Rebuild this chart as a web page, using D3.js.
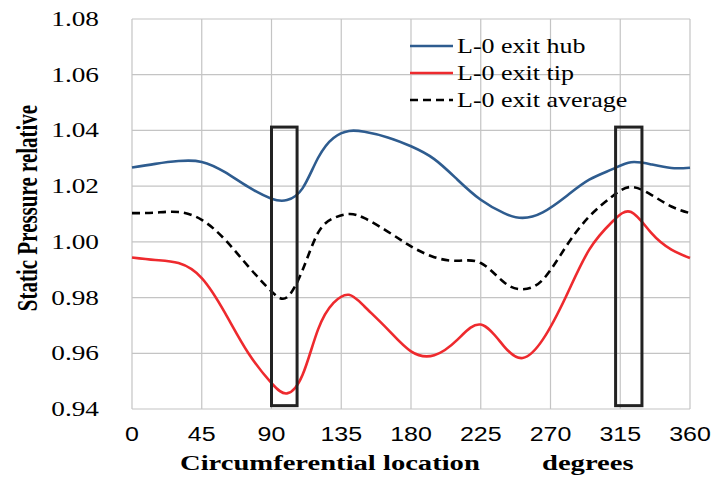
<!DOCTYPE html>
<html>
<head>
<meta charset="utf-8">
<script src="https://cdn.jsdelivr.net/npm/d3@7"></script>
<style>
  body { margin: 0; background: #fff; }
  svg { display: block; }
</style>
</head>
<body>
<div id="chart"></div>
<script>
// circumferential angle (degrees) where the curves were read
var angles = [0, 15, 30, 45, 60, 75, 90, 100, 110, 120, 130, 140, 150, 165, 180, 195, 210, 225, 240, 252, 265, 280, 295, 310, 322, 335, 348, 360];

var hub = [1.0267, 1.0280, 1.0290, 1.0287, 1.0250, 1.0197, 1.0155, 1.0150, 1.0192, 1.0301, 1.0373, 1.0398, 1.0395, 1.0375, 1.0343, 1.0297, 1.0223, 1.0151, 1.0103, 1.0086, 1.0106, 1.0163, 1.0223, 1.0261, 1.0286, 1.0278, 1.0265, 1.0266];
var tip = [0.9944, 0.9935, 0.9924, 0.9870, 0.9745, 0.9601, 0.9493, 0.9456, 0.9522, 0.9685, 0.9781, 0.9810, 0.9768, 0.9686, 0.9607, 0.9593, 0.9649, 0.9703, 0.9625, 0.9583, 0.9649, 0.9804, 0.9972, 1.0073, 1.0107, 1.0032, 0.9972, 0.9942];
var average = [1.0103, 1.0105, 1.0107, 1.0079, 1.0008, 0.9912, 0.9822, 0.9801, 0.9898, 1.0032, 1.0085, 1.0100, 1.0085, 1.0037, 0.9984, 0.9945, 0.9932, 0.9924, 0.9855, 0.9830, 0.9864, 0.9983, 1.0091, 1.0164, 1.0197, 1.0169, 1.0127, 1.0103];

var seriesNames = ["L-0 exit hub", "L-0 exit tip", "L-0 exit average"];
var xTicks = [0, 45, 90, 135, 180, 225, 270, 315, 360];
var yTicks = [0.94, 0.96, 0.98, 1.00, 1.02, 1.04, 1.06, 1.08];

// highlighted windows: [from deg, to deg, low, high]
var boxes = [[90, 106.5, 0.9412, 1.0412], [312, 329, 0.9412, 1.0412]];

var width = 715, height = 478;
var plotLeft = 132, plotRight = 690, plotTop = 19, plotBottom = 409;
var stretch = 1.3;

var svg = d3.select("#chart").append("svg")
  .attr("width", width)
  .attr("height", height);

var x = d3.scaleLinear().domain([0, 360]).range([plotLeft, plotRight]);
var y = d3.scaleLinear().domain([0.94, 1.08]).range([plotBottom, plotTop]);

// grid
svg.append("g").selectAll("line")
  .data(xTicks).enter().append("line")
  .attr("x1", function(d) { return x(d); })
  .attr("x2", function(d) { return x(d); })
  .attr("y1", y(0.94)).attr("y2", y(1.08))
  .attr("stroke", "#c4c4c4").attr("stroke-width", 1.2);
svg.append("g").selectAll("line")
  .data(yTicks).enter().append("line")
  .attr("x1", x(0)).attr("x2", x(360))
  .attr("y1", function(d) { return y(d); })
  .attr("y2", function(d) { return y(d); })
  .attr("stroke", "#c4c4c4").attr("stroke-width", 1.2);

// tick labels
svg.append("g").selectAll("text")
  .data(yTicks).enter().append("text")
  .attr("transform", function(d) { return "translate(99," + y(d) + ") scale(" + stretch + ",1)"; })
  .attr("dy", "0.33em")
  .attr("text-anchor", "end")
  .style("font-family", "Liberation Serif, Times New Roman, serif")
  .style("font-size", "21px")
  .text(function(d) { return d3.format(".2f")(d); });

svg.append("g").selectAll("text")
  .data(xTicks).enter().append("text")
  .attr("transform", function(d) { return "translate(" + x(d) + ",434) scale(1.25,1)"; })
  .attr("dy", "0.35em")
  .attr("text-anchor", "middle")
  .style("font-family", "Liberation Sans, Arial, sans-serif")
  .style("font-size", "20px")
  .text(function(d) { return d; });

// axis titles
svg.append("text")
  .attr("transform", "translate(37,208) scale(1.4,1) rotate(-90)")
  .attr("text-anchor", "middle")
  .style("font-family", "Liberation Serif, Times New Roman, serif")
  .style("font-size", "21px")
  .style("font-weight", "bold")
  .text("Static Pressure relative");

svg.append("text")
  .attr("transform", "translate(180,470) scale(" + stretch + ",1)")
  .style("font-family", "Liberation Serif, Times New Roman, serif")
  .style("font-size", "22px")
  .style("font-weight", "bold")
  .text("Circumferential location");
svg.append("text")
  .attr("transform", "translate(542,470) scale(" + stretch + ",1)")
  .style("font-family", "Liberation Serif, Times New Roman, serif")
  .style("font-size", "22px")
  .style("font-weight", "bold")
  .text("degrees");

// series
var series = [
  { name: seriesNames[0], values: hub, color: "#2e5c8f", dash: null },
  { name: seriesNames[1], values: tip, color: "#ee2a2e", dash: null },
  { name: seriesNames[2], values: average, color: "#000000", dash: "8,5" }
];

var line = d3.line()
  .x(function(d, i) { return x(angles[i]); })
  .y(function(d) { return y(d); })
  .curve(d3.curveNatural);

svg.append("g").selectAll("path")
  .data(series).enter().append("path")
  .attr("d", function(d) { return line(d.values); })
  .attr("fill", "none")
  .attr("stroke", function(d) { return d.color; })
  .attr("stroke-width", 2.6)
  .attr("stroke-dasharray", function(d) { return d.dash; });

// boxes
svg.append("g").selectAll("rect")
  .data(boxes).enter().append("rect")
  .attr("x", function(d) { return x(d[0]); })
  .attr("width", function(d) { return x(d[1]) - x(d[0]); })
  .attr("y", function(d) { return y(d[3]); })
  .attr("height", function(d) { return y(d[2]) - y(d[3]); })
  .attr("fill", "none")
  .attr("stroke", "#222")
  .attr("stroke-width", 3);

// legend
var legend = svg.append("g").selectAll("g")
  .data(series).enter().append("g")
  .attr("transform", function(d, i) { return "translate(410," + (46 + i * 27) + ")"; });
legend.append("line")
  .attr("x1", 0).attr("x2", 43)
  .attr("stroke", function(d) { return d.color; })
  .attr("stroke-width", 2.6)
  .attr("stroke-dasharray", function(d) { return d.dash; });
legend.append("text")
  .attr("transform", "translate(47,0) scale(" + stretch + ",1)")
  .attr("dy", "0.33em")
  .style("font-family", "Liberation Serif, Times New Roman, serif")
  .style("font-size", "20px")
  .text(function(d) { return d.name; });
</script>
</body>
</html>
